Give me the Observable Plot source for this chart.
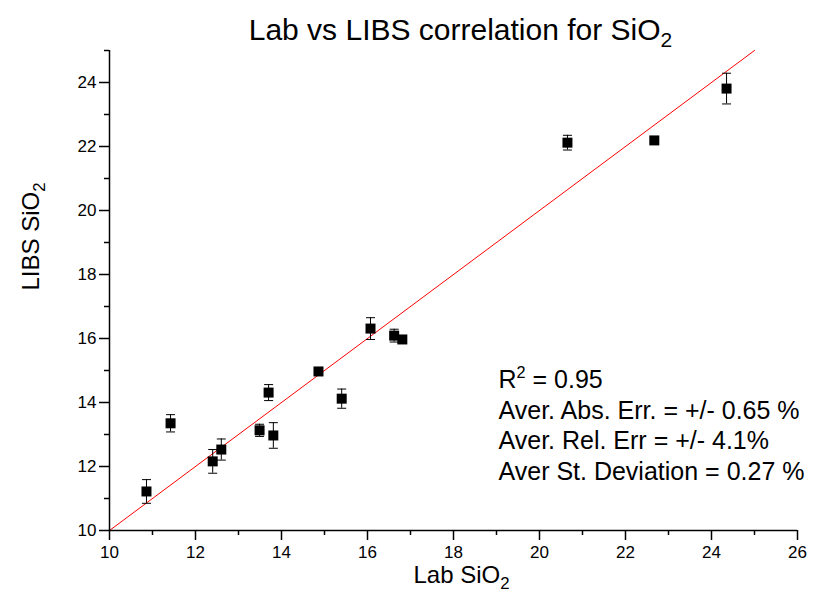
<!DOCTYPE html>
<html><head><meta charset="utf-8">
<script src="https://cdn.jsdelivr.net/npm/d3@7"></script>
<script src="https://cdn.jsdelivr.net/npm/@observablehq/plot@0.6"></script>
<style>body{margin:0;background:#fff}</style>
</head><body><div id="chart"></div>
<script>
// Data
const labSiO2  = [10.86, 11.42, 12.40, 12.60, 13.49, 13.70, 13.81, 14.86, 15.40, 16.07, 16.62, 16.81, 20.65, 22.67, 24.35];
const libsSiO2 = [11.22, 13.35, 12.16, 12.53, 13.13, 14.31, 12.97, 14.97, 14.12, 16.31, 16.09, 15.97, 22.12, 22.19, 23.81];
const libsErr  = [0.37, 0.27, 0.37, 0.33, 0.19, 0.25, 0.40, 0.08, 0.30, 0.34, 0.20, 0.08, 0.23, 0.05, 0.48];
const fitX = [10, 25];
const fitY = [10, 25];
const xMajorTicks = [10, 12, 14, 16, 18, 20, 22, 24, 26];
const xMinorTicks = [11, 13, 15, 17, 19, 21, 23, 25];
const yMajorTicks = [10, 12, 14, 16, 18, 20, 22, 24];
const yMinorTicks = [11, 13, 15, 17, 19, 21, 23, 25];
const titleText = "Lab vs LIBS correlation for SiO_{2}";
const xLabel = "Lab SiO_{2}";
const yLabel = "LIBS SiO_{2}";
const statsLines = ["R^{2} = 0.95", "Aver. Abs. Err. = +/- 0.65 %", "Aver. Rel. Err = +/- 4.1%", "Aver St. Deviation = 0.27 %"];

const points = labSiO2.map((x, i) => ({x, y: libsSiO2[i], lo: libsSiO2[i] - libsErr[i], hi: libsSiO2[i] + libsErr[i]}));
const fitLine = fitX.map((x, i) => ({x, y: fitY[i]}));
const capSymbol = {draw(ctx) { ctx.moveTo(-4.5, 0); ctx.lineTo(4.5, 0); }};

const statsDy = [337, 368, 398, 429];

const plot = Plot.plot({
  width: 815, height: 593,
  marginLeft: 109, marginRight: 18, marginTop: 50, marginBottom: 63,
  x: {domain: [10, 26]},
  y: {domain: [10, 25]},
  style: {fontFamily: "'Liberation Sans', Arial, sans-serif", fontSize: "17px", color: "black", background: "white"},
  marks: [
    Plot.line(fitLine, {x: "x", y: "y", stroke: "#ff0000", strokeWidth: 1}),
    Plot.ruleX(points, {x: "x", y1: "lo", y2: "hi", stroke: "black", strokeWidth: 1}),
    Plot.dot(points, {x: "x", y: "lo", symbol: capSymbol, r: 4, stroke: "black", fill: "none", strokeWidth: 1}),
    Plot.dot(points, {x: "x", y: "hi", symbol: capSymbol, r: 4, stroke: "black", fill: "none", strokeWidth: 1}),
    Plot.dot(points, {x: "x", y: "y", symbol: "square", r: 5.64, fill: "black", stroke: "none"}),
    Plot.ruleY([10], {x1: 10, x2: 26, stroke: "black", strokeWidth: 1.5}),
    Plot.ruleX([10], {y1: 10, y2: 25, stroke: "black", strokeWidth: 1.5}),
    Plot.axisX({ticks: xMajorTicks, tickSize: 10, tickPadding: 5, tickFormat: d => d, fontSize: 17, strokeWidth: 1.5, label: null}),
    Plot.axisX({ticks: xMinorTicks, tickSize: 5, tickFormat: () => "", strokeWidth: 1.5, label: null}),
    Plot.axisY({ticks: yMajorTicks, tickSize: 10, tickPadding: 3, tickFormat: d => d, fontSize: 17, strokeWidth: 1.5, label: null}),
    Plot.axisY({ticks: yMinorTicks, tickSize: 5, tickFormat: () => "", strokeWidth: 1.5, label: null}),
    Plot.text([titleText], {text: d => d, frameAnchor: "top", lineAnchor: "bottom", dx: 7, dy: -11, fontSize: 30}),
    Plot.text([xLabel], {text: d => d, frameAnchor: "bottom", lineAnchor: "bottom", dx: 8, dy: 52, fontSize: 24}),
    Plot.text([yLabel], {text: d => d, frameAnchor: "left", lineAnchor: "bottom", rotate: -90, dx: -71, dy: 0, fontSize: 24}),
    ...statsLines.map((s, i) => Plot.text([s], {text: d => d, frameAnchor: "top-left", textAnchor: "start", lineAnchor: "bottom", dx: 389, dy: statsDy[i], fontSize: 25}))
  ]
});
document.getElementById("chart").appendChild(plot);

// Render _{..} as subscript and ^{..} as superscript
const NS = "http://www.w3.org/2000/svg";
plot.querySelectorAll("text").forEach(el => {
  const t = el.textContent;
  if (!/[_^]\{/.test(t)) return;
  const fs = parseFloat(getComputedStyle(el).fontSize);
  while (el.firstChild) el.removeChild(el.firstChild);
  let offset = 0;
  t.split(/([_^]\{[^}]*\})/).forEach(p => {
    if (!p) return;
    const ts = document.createElementNS(NS, "tspan");
    let target = 0, txt = p;
    if (p.startsWith("_{")) { target = 0.26 * fs; txt = p.slice(2, -1); ts.setAttribute("font-size", 0.7 * fs); }
    else if (p.startsWith("^{")) { target = -0.4 * fs; txt = p.slice(2, -1); ts.setAttribute("font-size", 0.65 * fs); }
    const d = target - offset;
    if (d !== 0) ts.setAttribute("dy", d);
    offset = target;
    ts.textContent = txt;
    el.appendChild(ts);
  });
});
</script>
</body></html>
